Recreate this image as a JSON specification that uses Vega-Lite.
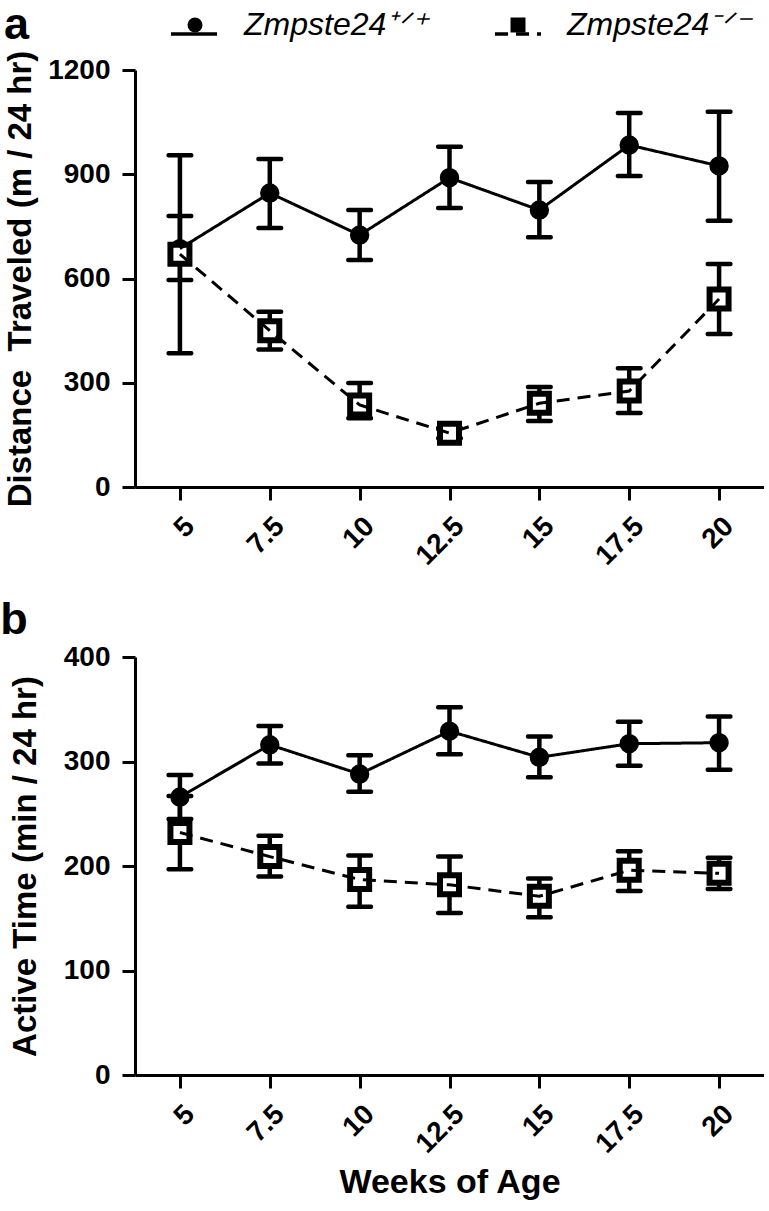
{
  "$schema": "https://vega.github.io/schema/vega-lite/v6.json",
  "background": "white",
  "padding": {"left": 0, "top": 9, "right": 0, "bottom": 0},
  "config": {
    "font": "Liberation Sans",
    "view": {"stroke": null},
    "axis": {
      "grid": false,
      "domainColor": "black",
      "domainWidth": 3,
      "tickColor": "black",
      "tickWidth": 3,
      "tickSize": 13,
      "labelFont": "Liberation Sans",
      "labelFontWeight": "bold",
      "labelFontSize": 28,
      "labelColor": "black",
      "labelPadding": 12,
      "titleFont": "Liberation Sans",
      "titleFontWeight": "bold",
      "titleColor": "black"
    },
    "axisX": {"labelDx": -6}
  },
  "resolve": {"legend": {"shape": "independent", "strokeDash": "independent"}},
  "datasets": {
    "distance": [
      {"week": 5, "genotype": "+/+", "mean": 686, "lo": 596, "hi": 780},
      {"week": 7.5, "genotype": "+/+", "mean": 846, "lo": 745, "hi": 944},
      {"week": 10, "genotype": "+/+", "mean": 725, "lo": 653, "hi": 797},
      {"week": 12.5, "genotype": "+/+", "mean": 890, "lo": 803, "hi": 979},
      {"week": 15, "genotype": "+/+", "mean": 797, "lo": 719, "hi": 878},
      {"week": 17.5, "genotype": "+/+", "mean": 984, "lo": 895, "hi": 1076},
      {"week": 20, "genotype": "+/+", "mean": 924, "lo": 766, "hi": 1080},
      {"week": 5, "genotype": "-/-", "mean": 670, "lo": 385, "hi": 955},
      {"week": 7.5, "genotype": "-/-", "mean": 450, "lo": 396, "hi": 504},
      {"week": 10, "genotype": "-/-", "mean": 236, "lo": 198, "hi": 299},
      {"week": 12.5, "genotype": "-/-", "mean": 155, "lo": 140, "hi": 170},
      {"week": 15, "genotype": "-/-", "mean": 241, "lo": 190, "hi": 288},
      {"week": 17.5, "genotype": "-/-", "mean": 276, "lo": 213, "hi": 342},
      {"week": 20, "genotype": "-/-", "mean": 541, "lo": 440, "hi": 642}
    ],
    "active": [
      {"week": 5, "genotype": "+/+", "mean": 266, "lo": 245, "hi": 287},
      {"week": 7.5, "genotype": "+/+", "mean": 316, "lo": 298, "hi": 334},
      {"week": 10, "genotype": "+/+", "mean": 288, "lo": 271, "hi": 306},
      {"week": 12.5, "genotype": "+/+", "mean": 329, "lo": 307, "hi": 352},
      {"week": 15, "genotype": "+/+", "mean": 304, "lo": 285, "hi": 324},
      {"week": 17.5, "genotype": "+/+", "mean": 317, "lo": 296, "hi": 338},
      {"week": 20, "genotype": "+/+", "mean": 318, "lo": 292, "hi": 343},
      {"week": 5, "genotype": "-/-", "mean": 232, "lo": 197, "hi": 267},
      {"week": 7.5, "genotype": "-/-", "mean": 209, "lo": 190, "hi": 229},
      {"week": 10, "genotype": "-/-", "mean": 187, "lo": 161, "hi": 210},
      {"week": 12.5, "genotype": "-/-", "mean": 182, "lo": 155, "hi": 209},
      {"week": 15, "genotype": "-/-", "mean": 171, "lo": 151, "hi": 188},
      {"week": 17.5, "genotype": "-/-", "mean": 196, "lo": 176, "hi": 214},
      {"week": 20, "genotype": "-/-", "mean": 193, "lo": 178, "hi": 208}
    ]
  },
  "spacing": 27,
  "vconcat": [
    {
      "width": 629,
      "height": 417,
      "data": {"name": "distance"},
      "encoding": {
        "x": {
          "field": "week",
          "type": "quantitative",
          "scale": {"domain": [3.75, 21.25], "nice": false, "zero": false},
          "axis": {"values": [5, 7.5, 10, 12.5, 15, 17.5, 20], "format": ".1~f", "labelAngle": -45, "title": null}
        }
      },
      "layer": [
        {
          "mark": {"type": "rule", "strokeWidth": 4.5, "color": "black"},
          "encoding": {
            "y": {
              "field": "lo", "type": "quantitative",
              "title": "Distance\u00a0 Traveled (m / 24 hr)",
              "scale": {"domain": [0, 1200], "nice": false},
              "axis": {"values": [0, 300, 600, 900, 1200], "format": "d", "titleFontSize": 33, "titlePadding": 10}
            },
            "y2": {"field": "hi"}
          }
        },
        {
          "mark": {"type": "tick", "orient": "horizontal", "size": 27, "thickness": 4.5, "color": "black", "opacity": 1, "cornerRadius": 2},
          "encoding": {"y": {"field": "lo", "type": "quantitative", "title": "Distance\u00a0 Traveled (m / 24 hr)"}}
        },
        {
          "mark": {"type": "tick", "orient": "horizontal", "size": 27, "thickness": 4.5, "color": "black", "opacity": 1, "cornerRadius": 2},
          "encoding": {"y": {"field": "hi", "type": "quantitative", "title": "Distance\u00a0 Traveled (m / 24 hr)"}}
        },
        {
          "mark": {"type": "point", "stroke": "black", "strokeWidth": 6, "opacity": 1, "fillOpacity": 1},
          "encoding": {
            "y": {"field": "mean", "type": "quantitative", "title": "Distance\u00a0 Traveled (m / 24 hr)"},
            "fill": {"field": "genotype", "type": "nominal", "scale": {"domain": ["+/+", "-/-"], "range": ["black", "white"]}, "legend": null},
            "size": {"field": "genotype", "type": "nominal", "scale": {"domain": ["+/+", "-/-"], "range": [180, 361]}, "legend": null},
            "shape": {
              "field": "genotype", "type": "nominal",
              "scale": {"domain": ["+/+", "-/-"], "range": ["circle", "square"]},
              "legend": {
                "orient": "none",
                "legendX": -131,
                "legendY": -61,
                "direction": "horizontal",
                "zindex": 2,
                "title": "a",
                "titleOrient": "left",
                "titleFont": "Liberation Sans",
                "titleFontSize": 45,
                "titleFontWeight": "bold",
                "titleColor": "black",
                "titlePadding": 149,
                "labelFont": "Liberation Sans",
                "labelFontStyle": "italic",
                "labelFontWeight": "normal",
                "labelFontSize": 32,
                "labelColor": "black",
                "labelLimit": 400,
                "labelOffset": 33,
                "symbolSize": 225,
                "symbolStrokeWidth": 3.5,
                "symbolStrokeColor": "black",
                "columnPadding": 73,
                "labelExpr": "'Zmpste24' + (datum.value === '+/+' ? '⁺ᐟ⁺' : '⁻ᐟ⁻')"
              }
            }
          }
        },
        {
          "mark": {"type": "line", "strokeWidth": 3, "color": "black"},
          "encoding": {
            "y": {"field": "mean", "type": "quantitative", "title": "Distance\u00a0 Traveled (m / 24 hr)"},
            "strokeDash": {
              "field": "genotype", "type": "nominal",
              "scale": {"domain": ["-/-", "+/+"], "range": [[13, 8], [1, 0]]},
              "legend": {
                "orient": "none",
                "legendX": 34,
                "legendY": -61,
                "direction": "horizontal",
                "values": ["+/+", "-/-"],
                "zindex": 1,
                "title": null,
                "symbolType": "stroke",
                "symbolSize": 2116,
                "symbolStrokeWidth": 3.5,
                "symbolStrokeColor": "black",
                "labelFont": "Liberation Sans",
                "labelFontStyle": "italic",
                "labelFontWeight": "normal",
                "labelFontSize": 32,
                "labelOpacity": 0,
                "labelLimit": 400,
                "labelOffset": 1,
                "columnPadding": 83,
                "labelExpr": "'Zmpste24' + (datum.value === '+/+' ? '⁺ᐟ⁺' : '⁻ᐟ⁻')"
              }
            }
          }
        }
      ]
    },
    {
      "width": 629,
      "height": 418,
      "data": {"name": "active"},
      "title": {"text": "b", "anchor": "start", "frame": "bounds", "dx": -9, "fontSize": 45, "fontWeight": "bold", "font": "Liberation Sans", "color": "black", "offset": 0},
      "encoding": {
        "x": {
          "field": "week",
          "type": "quantitative",
          "scale": {"domain": [3.75, 21.25], "nice": false, "zero": false},
          "axis": {"values": [5, 7.5, 10, 12.5, 15, 17.5, 20], "format": ".1~f", "labelAngle": -45, "title": "Weeks of Age", "titleFontSize": 34, "titlePadding": 7}
        }
      },
      "layer": [
        {
          "mark": {"type": "rule", "strokeWidth": 4.5, "color": "black"},
          "encoding": {
            "y": {
              "field": "lo", "type": "quantitative",
              "title": "Active Time (min / 24 hr)",
              "scale": {"domain": [0, 400], "nice": false},
              "axis": {"values": [0, 100, 200, 300, 400], "format": "d", "titleFontSize": 33, "titlePadding": 21}
            },
            "y2": {"field": "hi"}
          }
        },
        {
          "mark": {"type": "tick", "orient": "horizontal", "size": 27, "thickness": 4.5, "color": "black", "opacity": 1, "cornerRadius": 2},
          "encoding": {"y": {"field": "lo", "type": "quantitative", "title": "Active Time (min / 24 hr)"}}
        },
        {
          "mark": {"type": "tick", "orient": "horizontal", "size": 27, "thickness": 4.5, "color": "black", "opacity": 1, "cornerRadius": 2},
          "encoding": {"y": {"field": "hi", "type": "quantitative", "title": "Active Time (min / 24 hr)"}}
        },
        {
          "mark": {"type": "point", "stroke": "black", "strokeWidth": 6, "opacity": 1, "fillOpacity": 1},
          "encoding": {
            "y": {"field": "mean", "type": "quantitative", "title": "Active Time (min / 24 hr)"},
            "fill": {"field": "genotype", "type": "nominal", "scale": {"domain": ["+/+", "-/-"], "range": ["black", "white"]}, "legend": null},
            "size": {"field": "genotype", "type": "nominal", "scale": {"domain": ["+/+", "-/-"], "range": [180, 361]}, "legend": null},
            "shape": {"field": "genotype", "type": "nominal", "scale": {"domain": ["+/+", "-/-"], "range": ["circle", "square"]}, "legend": null}
          }
        },
        {
          "mark": {"type": "line", "strokeWidth": 3, "color": "black"},
          "encoding": {
            "y": {"field": "mean", "type": "quantitative", "title": "Active Time (min / 24 hr)"},
            "strokeDash": {"field": "genotype", "type": "nominal", "scale": {"domain": ["-/-", "+/+"], "range": [[13, 8], [1, 0]]}, "legend": null}
          }
        }
      ]
    }
  ]
}
